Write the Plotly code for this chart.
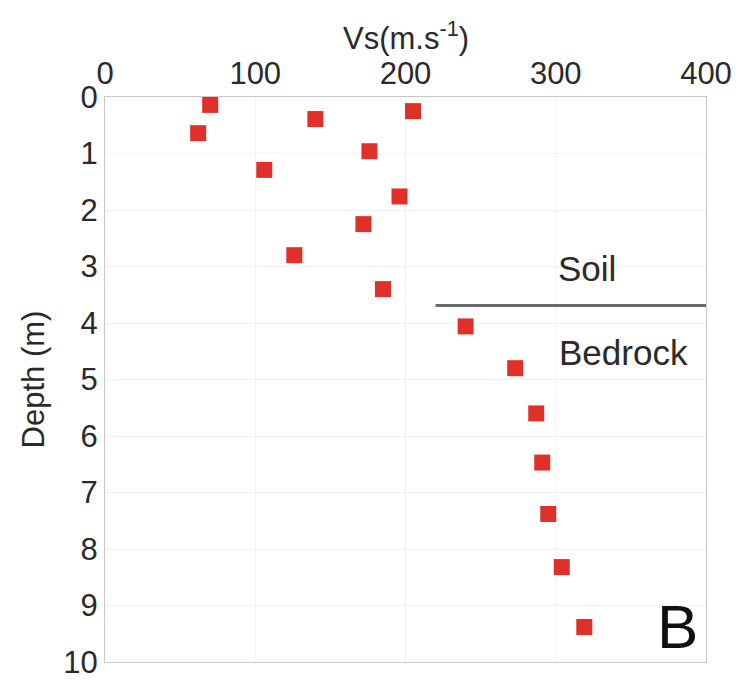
import plotly.graph_objects as go

vs = [70, 140, 205, 62, 176, 106, 196, 172, 126, 185, 240, 273, 287, 291, 295, 304, 319]
depth = [0.14, 0.39, 0.25, 0.64, 0.96, 1.29, 1.76, 2.25, 2.80, 3.40, 4.06, 4.80, 5.60, 6.47, 7.38, 8.32, 9.38]
boundary_x = [220, 400]
boundary_depth = [3.69, 3.69]
x_ticks = [0, 100, 200, 300, 400]
y_ticks = list(range(0, 11))

fam = "Liberation Sans, Arial, sans-serif"
fig = go.Figure()
fig.add_trace(go.Scatter(x=boundary_x, y=boundary_depth, mode="lines",
                         line=dict(color="#6a6a6a", width=3), showlegend=False))
fig.add_trace(go.Scatter(x=vs, y=depth, mode="markers",
                         marker=dict(symbol="square", size=16, color="#e0302a",
                                     line=dict(width=0)), showlegend=False))

tick_font = dict(family=fam, size=31, color="#2a2a2a")
title_font = dict(family=fam, size=31, color="#2a2a2a")
label_font = dict(family=fam, size=35, color="#2a2a2a")
fig.add_annotation(x=321, y=3.03, text="Soil", showarrow=False, font=label_font)
fig.add_annotation(x=345, y=4.52, text="Bedrock", showarrow=False, font=label_font)
fig.add_annotation(x=381, y=9.37, text="B", showarrow=False,
                   font=dict(family=fam, size=62, color="#111"))
fig.add_annotation(x=0.5, y=1.108, xref="paper", yref="paper", yanchor="middle",
                   text="Vs(m.s<sup>-1</sup>)", showarrow=False, font=title_font)

fig.update_layout(
    width=740, height=686,
    margin=dict(l=105, r=34, t=97, b=24),
    paper_bgcolor="white", plot_bgcolor="white",
    font=tick_font,
    xaxis=dict(side="top", range=[0, 400], tickvals=x_ticks, automargin=False,
               showgrid=True, gridcolor="#f2f2f2", zeroline=False,
               showline=True, linecolor="#c8c8c8", linewidth=1, mirror=True,
               ticks="", tickfont=tick_font),
    yaxis=dict(range=[10, 0], tickvals=y_ticks, automargin=False,
               showgrid=True, gridcolor="#f2f2f2", zeroline=False,
               showline=True, linecolor="#c8c8c8", linewidth=1, mirror=True,
               ticks="", tickfont=tick_font,
               title=dict(text="Depth (m)", font=title_font, standoff=9)),
)

fig.write_html("out.html")
